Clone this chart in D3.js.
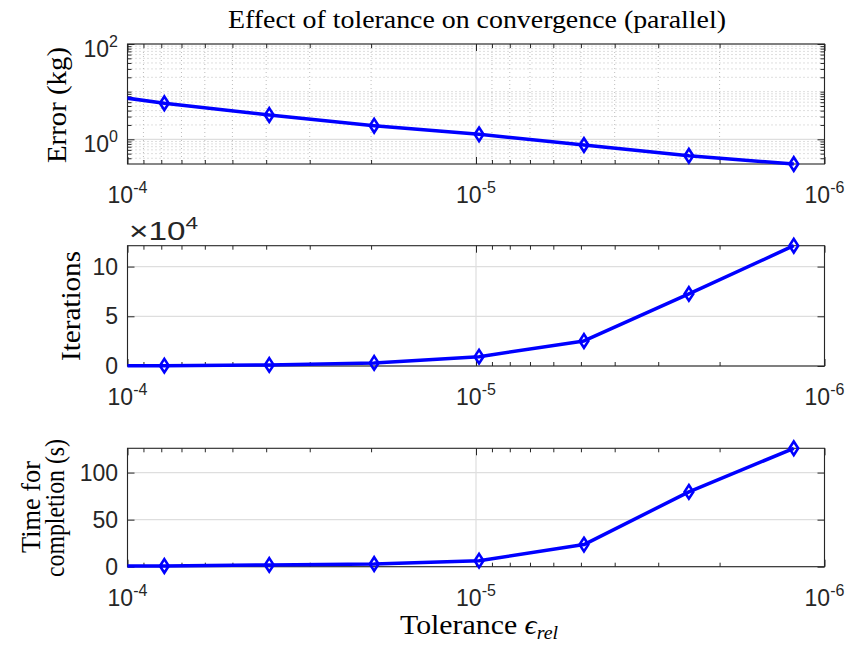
<!DOCTYPE html>
<html><head><meta charset="utf-8">
<script src="https://cdn.jsdelivr.net/npm/d3@7/dist/d3.min.js"></script>
<style>body{margin:0;background:#fff}</style>
</head><body>
<script>
// ---- data ----
const tolerance = [1.568e-4, 7.84e-5, 3.92e-5, 1.96e-5, 9.8e-6, 4.9e-6, 2.45e-6, 1.225e-6];
const errorKg   = [11.5, 5.7, 3.24, 1.93, 1.27, 0.76, 0.45, 0.303];
const iterations= [100, 350, 1100, 3100, 9400, 25200, 72500, 121000];
const timeS     = [0.3, 0.8, 1.9, 2.8, 6.4, 23.5, 79.5, 125.8];
const xTickVals = [1e-4, 1e-5, 1e-6];
const xTickExp  = ["-4", "-5", "-6"];
const errTickVals = [1, 100];
const errTickExp  = ["0", "2"];
const iterTickVals = [0, 50000, 100000];
const iterTickLabels = ["0", "5", "10"];
const timeTickVals = [0, 50, 100];
const timeTickLabels = ["0", "50", "100"];
const titleText = "Effect of tolerance on convergence (parallel)";

const W = 850, H = 648;
const axisCol = "#262626", gridCol = "#dedede", minorGridCol = "#bdbdbd", blue = "#0000ff";
const sansFont = "'Liberation Sans', Arial, Helvetica, sans-serif";
const serifFont = "'Liberation Serif', 'DejaVu Serif', serif";

const svg = d3.select("body").append("svg").attr("width", W).attr("height", H)
  .style("font-family", sansFont);

const xLeft = 127.5, xRight = 824.5;
const x = d3.scaleLog().domain([1e-4, 1e-6]).range([xLeft, xRight]);

const xMinor = [];
[1e-6, 1e-5].forEach(d => { for (let k = 2; k <= 9; k++) xMinor.push(d * k); });

svg.append("defs").append("clipPath").attr("id", "clipx")
  .append("rect").attr("x", xLeft).attr("y", 0).attr("width", xRight - xLeft).attr("height", H);

const diamond = "M0,-6.8L4.4,0L0,6.8L-4.4,0Z";

function panel(opts) {
  const { top, bottom, y, values, yTickVals, yMinorVals, minorGrid } = opts;
  const g = svg.append("g");
  if (minorGrid) {
    g.selectAll(".mgy").data(yMinorVals).enter().append("line")
      .attr("x1", xLeft).attr("x2", xRight).attr("y1", d => y(d)).attr("y2", d => y(d))
      .attr("stroke", minorGridCol).attr("stroke-width", 1).attr("stroke-dasharray", "1,3");
    g.selectAll(".mgx").data(xMinor).enter().append("line")
      .attr("y1", top).attr("y2", bottom).attr("x1", d => x(d)).attr("x2", d => x(d))
      .attr("stroke", minorGridCol).attr("stroke-width", 1).attr("stroke-dasharray", "1,3");
  }
  g.selectAll(".gy").data(yTickVals).enter().append("line")
    .attr("x1", xLeft).attr("x2", xRight).attr("y1", d => y(d)).attr("y2", d => y(d))
    .attr("stroke", gridCol).attr("stroke-width", 1.2);
  g.selectAll(".gx").data(xTickVals).enter().append("line")
    .attr("y1", top).attr("y2", bottom).attr("x1", d => x(d)).attr("x2", d => x(d))
    .attr("stroke", gridCol).attr("stroke-width", 1.2);

  const axes = [];
  const add = (tr, ax) => axes.push(g.append("g").attr("transform", tr).call(ax));
  add(`translate(0,${bottom})`, d3.axisBottom(x).tickValues(xTickVals).tickSize(-7).tickFormat(""));
  add(`translate(0,${bottom})`, d3.axisBottom(x).tickValues(xMinor).tickSize(-4).tickFormat(""));
  add(`translate(0,${top})`, d3.axisTop(x).tickValues(xTickVals).tickSize(-7).tickFormat(""));
  add(`translate(0,${top})`, d3.axisTop(x).tickValues(xMinor).tickSize(-4).tickFormat(""));
  add(`translate(${xLeft},0)`, d3.axisLeft(y).tickValues(yTickVals).tickSize(-7).tickFormat(""));
  add(`translate(${xRight},0)`, d3.axisRight(y).tickValues(yTickVals).tickSize(-7).tickFormat(""));
  if (yMinorVals) {
    add(`translate(${xLeft},0)`, d3.axisLeft(y).tickValues(yMinorVals).tickSize(-4).tickFormat(""));
    add(`translate(${xRight},0)`, d3.axisRight(y).tickValues(yMinorVals).tickSize(-4).tickFormat(""));
  }
  axes.forEach(a => {
    a.select(".domain").remove();
    a.selectAll("line").attr("stroke", axisCol).attr("stroke-width", 1);
  });
  g.append("rect").attr("x", xLeft).attr("y", top).attr("width", xRight - xLeft).attr("height", bottom - top)
    .attr("fill", "none").attr("stroke", axisCol).attr("stroke-width", 1.1);

  xTickVals.forEach((d, i) => {
    const t = g.append("text").attr("x", x(d)).attr("y", bottom + 39)
      .attr("text-anchor", "middle").attr("fill", axisCol).style("font-size", "23px");
    t.append("tspan").text("10");
    t.append("tspan").attr("dy", -10).style("font-size", "16px").text(xTickExp[i]);
  });

  const line = d3.line().x((d, i) => x(tolerance[i])).y(d => y(d));
  g.append("path").datum(values).attr("d", line).attr("clip-path", "url(#clipx)")
    .attr("fill", "none").attr("stroke", blue).attr("stroke-width", 3.5).attr("stroke-linejoin", "round");
  const pts = values.map((v, i) => ({ t: tolerance[i], v })).filter(p => p.t <= 1e-4 && p.t >= 1e-6);
  g.selectAll(".mk").data(pts).enter().append("path")
    .attr("d", diamond).attr("transform", p => `translate(${x(p.t)},${y(p.v)})`)
    .attr("fill", "none").attr("stroke", blue).attr("stroke-width", 2.6);
  return g;
}

// ---- top panel ----
const yErr = d3.scaleLog().domain([d3.min(errorKg), 100]).range([164, 44]);
const errMinor = [];
[0.1, 1, 10].forEach(d => { for (let k = 2; k <= 9; k++) if (d * k >= d3.min(errorKg)) errMinor.push(d * k); });
errMinor.push(10);
const gTop = panel({ top: 44, bottom: 164, y: yErr, values: errorKg, yTickVals: errTickVals,
  yMinorVals: errMinor, minorGrid: true });
errTickVals.forEach((d, i) => {
  const t = gTop.append("text").attr("x", 118).attr("y", yErr(d) + 13)
    .attr("text-anchor", "end").attr("fill", axisCol).style("font-size", "23px");
  t.append("tspan").text("10");
  t.append("tspan").attr("dy", -10).style("font-size", "16px").text(errTickExp[i]);
});

// ---- middle panel ----
const yIt = d3.scaleLinear().domain([0, d3.max(iterations)]).range([366, 245.7]);
const gMid = panel({ top: 245.7, bottom: 366, y: yIt, values: iterations, yTickVals: iterTickVals, minorGrid: false });
iterTickVals.forEach((d, i) => {
  gMid.append("text").attr("x", 118).attr("y", yIt(d) + 8).attr("text-anchor", "end")
    .attr("fill", axisCol).style("font-size", "23px").text(iterTickLabels[i]);
});
const mult = gMid.append("text").attr("x", 129).attr("y", 240).attr("fill", axisCol).style("font-size", "25px")
  .attr("textLength", 69).attr("lengthAdjust", "spacingAndGlyphs");
mult.append("tspan").text("\u00d710");
mult.append("tspan").attr("dy", -11).style("font-size", "17px").text("4");

// ---- bottom panel ----
const yT = d3.scaleLinear().domain([0, d3.max(timeS)]).range([566.7, 448.3]);
const gBot = panel({ top: 448.3, bottom: 566.7, y: yT, values: timeS, yTickVals: timeTickVals, minorGrid: false });
timeTickVals.forEach((d, i) => {
  gBot.append("text").attr("x", 118).attr("y", yT(d) + 8).attr("text-anchor", "end")
    .attr("fill", axisCol).style("font-size", "23px").text(timeTickLabels[i]);
});

// ---- titles & labels ----
svg.append("text").attr("x", 477).attr("y", 28).attr("text-anchor", "middle")
  .style("font-family", serifFont).style("font-size", "26px").attr("fill", "#000")
  .attr("textLength", 498).attr("lengthAdjust", "spacingAndGlyphs").text(titleText);

function ylab(txt, cx, cy, len) {
  svg.append("text").attr("transform", `translate(${cx},${cy}) rotate(-90)`)
    .attr("text-anchor", "middle").style("font-family", serifFont).style("font-size", "27px")
    .attr("fill", "#000").attr("textLength", len).attr("lengthAdjust", "spacingAndGlyphs").text(txt);
}
ylab("Error (kg)", 66, 105, 116);
ylab("Iterations", 80, 306, 110);
ylab("Time for", 40, 507, 92);
ylab("completion (s)", 64, 508, 138);

const xl = svg.append("text").attr("x", 479).attr("y", 634).attr("text-anchor", "middle")
  .style("font-family", serifFont).style("font-size", "27px").attr("fill", "#000")
  .attr("textLength", 158).attr("lengthAdjust", "spacingAndGlyphs");
xl.append("tspan").text("Tolerance ");
xl.append("tspan").style("font-style", "italic").text("\u03f5");
xl.append("tspan").attr("dy", 5).style("font-style", "italic").style("font-size", "18px").text("rel");
</script>
</body></html>
